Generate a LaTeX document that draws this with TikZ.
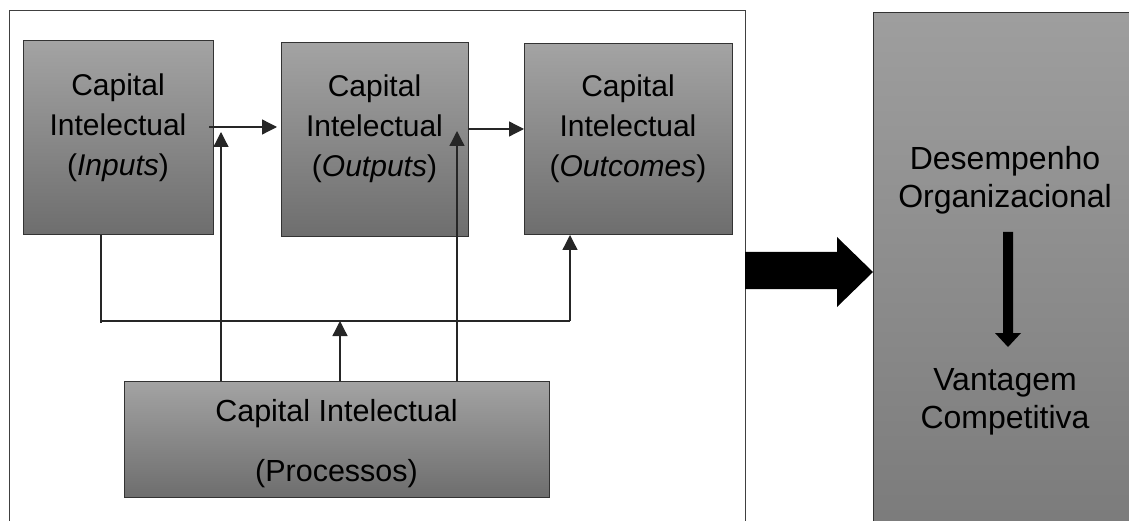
\documentclass[tikz,border=0pt]{standalone}
\usepackage{fontspec}
\setmainfont{Liberation Sans}
\usetikzlibrary{arrows.meta}
\begin{document}
\begin{tikzpicture}[x=1pt,y=-1pt,
  gbox/.style={draw=black!80, line width=1pt, top color=black!36, bottom color=black!57, inner sep=0pt, outer sep=0pt},
  txt/.style={font=\fontsize{30}{40}\selectfont, align=center, text=black, inner sep=0pt},
  arr/.style={draw=black!85, line width=1.3pt, -{Triangle[length=15pt,width=15pt]}},
  ln/.style={draw=black!85, line width=1.3pt}]
\useasboundingbox (0,0) rectangle (1129,521);
% outer frame
\draw[black!75, line width=1pt] (9,530) -- (9,11) -- (745,11) -- (745,530);
% right box
\draw[draw=black!80, line width=1pt, top color=black!38, bottom color=black!52] (873,540) rectangle (1140,13);
% boxes
\node[gbox, minimum width=190, minimum height=194] (b1) at (118,138) {};
\node[gbox, minimum width=187, minimum height=194] (b2) at (374.5,140) {};
\node[gbox, minimum width=208, minimum height=191] (b3) at (628,139.5) {};
\node[gbox, minimum width=425, minimum height=116] (b4) at (336.5,439) {};
% texts
\node[txt] (t1) at (118,128) {Capital\\Intelectual\\(\textit{Inputs})};
\node[txt] (t2) at (374.5,129) {Capital\\Intelectual\\(\textit{Outputs})};
\node[txt] (t3) at (628,129) {Capital\\Intelectual\\(\textit{Outcomes})};
\node[txt, font=\fontsize{30.5}{60}\selectfont] (t4) at (336.5,444) {Capital Intelectual\\(Processos)};
\node[txt, font=\fontsize{32}{38}\selectfont] (t5) at (1005,180) {Desempenho\\Organizacional};
\node[txt, font=\fontsize{32}{38}\selectfont] (t6) at (1005,402) {Vantagem\\Competitiva};
% connectors
\draw[arr] ([shift={(-4,-11)}]b1.east) -- ([shift={(-4,-11)}]b1.east -| b2.west);
\draw[arr] ([shift={(0,-11)}]b2.east) -- ([shift={(0,-11)}]b2.east -| b3.west);
\coordinate (p1) at (221,132);
\coordinate (p2) at (457,131);
\coordinate (j) at (340,321);
\coordinate (c1) at (101,321);
\coordinate (c2) at (570,321);
\draw[arr] (b4.north -| p1) -- (p1);
\draw[arr] (b4.north -| p2) -- (p2);
\draw[arr] (b4.north -| j) -- (j);
\draw[ln] (b1.south -| c1) -- ([yshift=-1.5pt]c1);
\draw[ln] (c1) -- (c2);
\draw[arr] (c2) -- (b3.south -| c2);
% block arrows
\fill[black] (745,252) -- (837,252) -- (837,237) -- (873,272) -- (837,307) -- (837,289) -- (745,289) -- cycle;
\fill[black] (1003,232) -- (1013,232) -- (1013,333) -- (1021,333) -- (1008,347) -- (995,333) -- (1003,333) -- cycle;
\end{tikzpicture}
\end{document}
